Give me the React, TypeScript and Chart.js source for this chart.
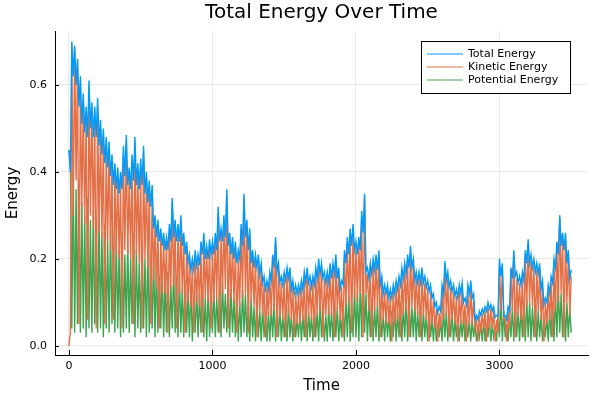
import React, { useEffect, useRef } from "react";
import { Chart, registerables } from "chart.js";

Chart.register(...registerables);

// Sampling step of the recorded series (time units between consecutive samples)
const SAMPLE_STEP = 10;

const TITLE = "Total Energy Over Time";
const X_LABEL = "Time";
const Y_LABEL = "Energy";
const X_TICKS = [0, 1000, 2000, 3000];
const Y_TICKS = [0, 0.2, 0.4, 0.6];
const SERIES_NAMES = ["Total Energy", "Kinetic Energy", "Potential Energy"];
const SERIES_COLORS = ["#009AFA", "#E36F47", "#3EA44E"];

// Total energy: samples at t = 0, 20, 40, ... (local highs)
const TOTAL_HI = [
  0.45, 0.70, 0.69, 0.66, 0.62, 0.58, 0.55, 0.61, 0.56, 0.55,
  0.57, 0.52, 0.50, 0.48, 0.47, 0.44, 0.42, 0.41, 0.40, 0.46,
  0.485, 0.41, 0.44, 0.48, 0.42, 0.43, 0.46, 0.40, 0.38, 0.37,
  0.30, 0.29, 0.27, 0.26, 0.25, 0.28, 0.34, 0.29, 0.28, 0.30,
  0.26, 0.24, 0.21, 0.20, 0.22, 0.21, 0.24, 0.26, 0.23, 0.245,
  0.24, 0.26, 0.32, 0.27, 0.30, 0.36, 0.26, 0.25, 0.24, 0.22,
  0.28, 0.35, 0.29, 0.27, 0.22, 0.21, 0.21, 0.19, 0.16, 0.15,
  0.17, 0.21, 0.25, 0.19, 0.16, 0.17, 0.18, 0.18, 0.15, 0.14,
  0.14, 0.15, 0.17, 0.18, 0.16, 0.16, 0.18, 0.20, 0.19, 0.17,
  0.17, 0.19, 0.19, 0.21, 0.18, 0.15, 0.22, 0.25, 0.27, 0.28,
  0.24, 0.25, 0.31, 0.35, 0.18, 0.19, 0.20, 0.21, 0.22, 0.16,
  0.14, 0.14, 0.13, 0.14, 0.15, 0.16, 0.18, 0.19, 0.21, 0.23,
  0.20, 0.17, 0.17, 0.18, 0.16, 0.15, 0.14, 0.12, 0.10, 0.09,
  0.14, 0.195, 0.17, 0.15, 0.14, 0.13, 0.14, 0.145, 0.11, 0.14,
  0.15, 0.12, 0.07, 0.08, 0.085, 0.09, 0.10, 0.095, 0.09, 0.07,
  0.20, 0.19, 0.07, 0.09, 0.18, 0.22, 0.17, 0.16, 0.17, 0.22,
  0.245, 0.21, 0.20, 0.19, 0.19, 0.15, 0.11, 0.14, 0.16, 0.20,
  0.24, 0.30, 0.26, 0.26, 0.22, 0.175,
];
// Total energy: samples at t = 10, 30, 50, ... (local lows)
const TOTAL_LO = [
  0.40, 0.62, 0.60, 0.55, 0.51, 0.49, 0.48, 0.50, 0.48, 0.48,
  0.46, 0.44, 0.42, 0.41, 0.39, 0.37, 0.36, 0.35, 0.36, 0.39,
  0.37, 0.36, 0.38, 0.37, 0.36, 0.37, 0.35, 0.33, 0.32, 0.27,
  0.25, 0.24, 0.23, 0.22, 0.22, 0.24, 0.25, 0.24, 0.24, 0.23,
  0.21, 0.19, 0.175, 0.175, 0.185, 0.185, 0.21, 0.20, 0.20, 0.21,
  0.21, 0.22, 0.24, 0.24, 0.25, 0.23, 0.21, 0.20, 0.19, 0.20,
  0.23, 0.25, 0.22, 0.19, 0.18, 0.18, 0.165, 0.145, 0.13, 0.13,
  0.15, 0.18, 0.17, 0.145, 0.14, 0.15, 0.155, 0.13, 0.12, 0.12,
  0.12, 0.13, 0.145, 0.145, 0.135, 0.14, 0.155, 0.165, 0.155, 0.145,
  0.145, 0.155, 0.165, 0.155, 0.13, 0.14, 0.19, 0.21, 0.23, 0.22,
  0.21, 0.22, 0.26, 0.17, 0.155, 0.165, 0.175, 0.175, 0.14, 0.12,
  0.12, 0.11, 0.11, 0.12, 0.13, 0.14, 0.155, 0.165, 0.18, 0.18,
  0.15, 0.145, 0.145, 0.145, 0.135, 0.125, 0.11, 0.09, 0.075, 0.08,
  0.12, 0.15, 0.135, 0.125, 0.115, 0.11, 0.12, 0.10, 0.095, 0.12,
  0.11, 0.06, 0.06, 0.07, 0.075, 0.08, 0.085, 0.08, 0.065, 0.07,
  0.16, 0.07, 0.06, 0.08, 0.155, 0.16, 0.145, 0.14, 0.15, 0.19,
  0.19, 0.18, 0.17, 0.165, 0.13, 0.095, 0.10, 0.12, 0.145, 0.18,
  0.21, 0.23, 0.22, 0.19, 0.155,
];

// Kinetic energy: samples at t = 0, 20, 40, ... (local highs)
const KINETIC_HI = [
  0.00, 0.69, 0.68, 0.65, 0.60, 0.56, 0.53, 0.59, 0.54, 0.53,
  0.55, 0.50, 0.48, 0.46, 0.45, 0.42, 0.40, 0.39, 0.38, 0.44,
  0.47, 0.39, 0.42, 0.46, 0.40, 0.41, 0.44, 0.38, 0.36, 0.35,
  0.28, 0.27, 0.255, 0.245, 0.235, 0.265, 0.33, 0.275, 0.265, 0.285,
  0.245, 0.225, 0.195, 0.185, 0.205, 0.195, 0.225, 0.245, 0.215, 0.23,
  0.225, 0.245, 0.305, 0.255, 0.285, 0.35, 0.245, 0.235, 0.225, 0.205,
  0.265, 0.34, 0.275, 0.255, 0.205, 0.195, 0.195, 0.175, 0.145, 0.135,
  0.155, 0.195, 0.24, 0.175, 0.145, 0.155, 0.165, 0.165, 0.135, 0.125,
  0.125, 0.135, 0.155, 0.165, 0.145, 0.145, 0.165, 0.185, 0.175, 0.155,
  0.155, 0.175, 0.175, 0.195, 0.165, 0.135, 0.205, 0.235, 0.255, 0.265,
  0.225, 0.235, 0.295, 0.345, 0.165, 0.175, 0.185, 0.195, 0.205, 0.145,
  0.125, 0.125, 0.115, 0.125, 0.135, 0.145, 0.165, 0.175, 0.195, 0.215,
  0.185, 0.155, 0.155, 0.165, 0.145, 0.135, 0.125, 0.105, 0.085, 0.075,
  0.125, 0.18, 0.155, 0.135, 0.125, 0.115, 0.125, 0.13, 0.095, 0.125,
  0.135, 0.105, 0.06, 0.07, 0.075, 0.08, 0.09, 0.085, 0.08, 0.06,
  0.185, 0.175, 0.06, 0.08, 0.165, 0.205, 0.155, 0.145, 0.155, 0.205,
  0.23, 0.195, 0.185, 0.175, 0.175, 0.135, 0.10, 0.125, 0.145, 0.185,
  0.225, 0.295, 0.245, 0.245, 0.205, 0.16,
];
// Kinetic energy: samples at t = 10, 30, 50, ... (local lows)
const KINETIC_LO = [
  0.03, 0.30, 0.38, 0.05, 0.32, 0.28, 0.06, 0.30, 0.27, 0.04,
  0.26, 0.25, 0.05, 0.24, 0.22, 0.06, 0.21, 0.20, 0.04, 0.22,
  0.21, 0.20, 0.05, 0.21, 0.19, 0.04, 0.20, 0.18, 0.05, 0.15,
  0.13, 0.04, 0.12, 0.12, 0.03, 0.13, 0.14, 0.04, 0.12, 0.12,
  0.03, 0.10, 0.09, 0.03, 0.10, 0.09, 0.03, 0.11, 0.10, 0.04,
  0.10, 0.11, 0.03, 0.12, 0.13, 0.04, 0.11, 0.10, 0.03, 0.09,
  0.11, 0.12, 0.03, 0.10, 0.09, 0.02, 0.08, 0.07, 0.02, 0.07,
  0.07, 0.08, 0.02, 0.07, 0.06, 0.02, 0.07, 0.06, 0.02, 0.05,
  0.05, 0.06, 0.02, 0.07, 0.06, 0.02, 0.07, 0.08, 0.02, 0.07,
  0.07, 0.07, 0.02, 0.08, 0.06, 0.02, 0.09, 0.10, 0.03, 0.11,
  0.10, 0.12, 0.02, 0.12, 0.08, 0.02, 0.08, 0.09, 0.02, 0.06,
  0.05, 0.05, 0.01, 0.05, 0.06, 0.02, 0.07, 0.08, 0.02, 0.09,
  0.08, 0.07, 0.02, 0.07, 0.06, 0.01, 0.05, 0.04, 0.01, 0.04,
  0.06, 0.07, 0.02, 0.06, 0.05, 0.01, 0.05, 0.05, 0.01, 0.05,
  0.05, 0.04, 0.01, 0.03, 0.04, 0.01, 0.04, 0.04, 0.01, 0.03,
  0.08, 0.06, 0.01, 0.04, 0.08, 0.02, 0.07, 0.06, 0.02, 0.09,
  0.10, 0.09, 0.02, 0.08, 0.06, 0.01, 0.05, 0.06, 0.02, 0.08,
  0.10, 0.12, 0.02, 0.10, 0.07,
];

// Potential energy: samples at t = 0, 20, 40, ... (local lows)
const POTENTIAL_LO = [
  0.45, 0.04, 0.03, 0.05, 0.03, 0.04, 0.02, 0.04, 0.03, 0.05,
  0.03, 0.04, 0.02, 0.04, 0.03, 0.05, 0.03, 0.04, 0.02, 0.03,
  0.04, 0.03, 0.05, 0.02, 0.04, 0.03, 0.04, 0.02, 0.03, 0.04,
  0.02, 0.03, 0.04, 0.02, 0.03, 0.02, 0.04, 0.03, 0.02, 0.03,
  0.02, 0.03, 0.02, 0.01, 0.03, 0.02, 0.03, 0.02, 0.01, 0.02,
  0.03, 0.02, 0.03, 0.02, 0.04, 0.03, 0.02, 0.03, 0.02, 0.01,
  0.02, 0.03, 0.02, 0.01, 0.02, 0.01, 0.02, 0.01, 0.02, 0.01,
  0.01, 0.02, 0.01, 0.02, 0.01, 0.02, 0.01, 0.02, 0.01, 0.02,
  0.02, 0.01, 0.02, 0.01, 0.02, 0.01, 0.02, 0.01, 0.02, 0.01,
  0.01, 0.02, 0.01, 0.02, 0.01, 0.02, 0.01, 0.02, 0.01, 0.02,
  0.02, 0.01, 0.02, 0.03, 0.01, 0.02, 0.01, 0.02, 0.01, 0.02,
  0.01, 0.02, 0.01, 0.02, 0.01, 0.02, 0.01, 0.02, 0.01, 0.02,
  0.02, 0.01, 0.02, 0.01, 0.02, 0.01, 0.02, 0.01, 0.01, 0.02,
  0.01, 0.02, 0.01, 0.02, 0.01, 0.02, 0.01, 0.02, 0.01, 0.02,
  0.01, 0.02, 0.01, 0.02, 0.01, 0.01, 0.02, 0.01, 0.02, 0.01,
  0.02, 0.01, 0.02, 0.01, 0.02, 0.01, 0.02, 0.01, 0.02, 0.01,
  0.02, 0.01, 0.02, 0.01, 0.02, 0.01, 0.02, 0.01, 0.02, 0.01,
  0.02, 0.03, 0.02, 0.01, 0.02, 0.03,
];
// Potential energy: samples at t = 10, 30, 50, ... (local highs)
const POTENTIAL_HI = [
  0.44, 0.40, 0.36, 0.38, 0.33, 0.30, 0.34, 0.29, 0.31, 0.27,
  0.30, 0.26, 0.28, 0.24, 0.27, 0.23, 0.25, 0.22, 0.26, 0.21,
  0.24, 0.20, 0.26, 0.22, 0.19, 0.23, 0.20, 0.22, 0.18, 0.21,
  0.19, 0.16, 0.18, 0.15, 0.17, 0.14, 0.18, 0.15, 0.16, 0.13,
  0.15, 0.12, 0.14, 0.11, 0.13, 0.12, 0.14, 0.11, 0.13, 0.12,
  0.13, 0.11, 0.14, 0.15, 0.12, 0.14, 0.13, 0.11, 0.12, 0.10,
  0.13, 0.12, 0.10, 0.11, 0.09, 0.10, 0.08, 0.09, 0.07, 0.08,
  0.09, 0.10, 0.08, 0.09, 0.07, 0.08, 0.09, 0.07, 0.08, 0.06,
  0.08, 0.07, 0.09, 0.08, 0.07, 0.09, 0.08, 0.10, 0.08, 0.07,
  0.09, 0.08, 0.10, 0.09, 0.07, 0.10, 0.11, 0.12, 0.10, 0.13,
  0.12, 0.14, 0.19, 0.12, 0.10, 0.11, 0.09, 0.10, 0.08, 0.07,
  0.08, 0.07, 0.08, 0.09, 0.08, 0.10, 0.09, 0.11, 0.10, 0.09,
  0.10, 0.08, 0.09, 0.08, 0.07, 0.08, 0.06, 0.07, 0.05, 0.06,
  0.09, 0.08, 0.07, 0.08, 0.06, 0.07, 0.06, 0.07, 0.05, 0.06,
  0.06, 0.05, 0.04, 0.05, 0.06, 0.05, 0.06, 0.05, 0.04, 0.07,
  0.11, 0.08, 0.05, 0.07, 0.09, 0.10, 0.08, 0.09, 0.10, 0.11,
  0.10, 0.09, 0.11, 0.08, 0.07, 0.06, 0.07, 0.08, 0.10, 0.12,
  0.14, 0.12, 0.11, 0.10, 0.09,
];

const FONT = "'DejaVu Sans', sans-serif";

function interleave(even: number[], odd: number[]) {
  const out: { x: number; y: number }[] = [];
  for (let i = 0; i < even.length; i++) {
    out.push({ x: 2 * i * SAMPLE_STEP, y: even[i] });
    if (i < odd.length) out.push({ x: (2 * i + 1) * SAMPLE_STEP, y: odd[i] });
  }
  return out;
}

const decorPlugin = {
  id: "decor",
  afterDraw(chart: any) {
    const { ctx, chartArea, scales } = chart;
    ctx.save();
    ctx.strokeStyle = "#000";
    ctx.lineWidth = 1;
    X_TICKS.forEach((v) => {
      const px = Math.round(scales.x.getPixelForValue(v)) + 0.5;
      ctx.beginPath();
      ctx.moveTo(px, chartArea.bottom);
      ctx.lineTo(px, chartArea.bottom - 5);
      ctx.stroke();
    });
    Y_TICKS.forEach((v) => {
      const py = Math.round(scales.y.getPixelForValue(v)) + 0.5;
      ctx.beginPath();
      ctx.moveTo(chartArea.left, py);
      ctx.lineTo(chartArea.left + 4, py);
      ctx.stroke();
    });
    ctx.fillStyle = "#000";
    ctx.font = `20px ${FONT}`;
    ctx.textAlign = "center";
    ctx.textBaseline = "middle";
    ctx.fillText(TITLE, (chartArea.left + chartArea.right) / 2, 13);
    const bx = 421.5, by = 41.5, bw = 149, bh = 52;
    ctx.fillStyle = "#fff";
    ctx.fillRect(bx, by, bw, bh);
    ctx.strokeStyle = "#000";
    ctx.strokeRect(bx, by, bw, bh);
    ctx.font = `11px ${FONT}`;
    ctx.textAlign = "left";
    SERIES_NAMES.forEach((name, i) => {
      const y = 54 + i * 13;
      ctx.strokeStyle = SERIES_COLORS[i];
      ctx.beginPath();
      ctx.moveTo(427, y);
      ctx.lineTo(463, y);
      ctx.stroke();
      ctx.fillStyle = "#000";
      ctx.fillText(name, 468, y + 0.5);
    });
    ctx.restore();
  },
};

export default function App() {
  const ref = useRef<HTMLCanvasElement | null>(null);
  useEffect(() => {
    if (!ref.current) return;
    const series = [
      interleave(TOTAL_HI, TOTAL_LO),
      interleave(KINETIC_HI, KINETIC_LO),
      interleave(POTENTIAL_LO, POTENTIAL_HI),
    ];
    const chart = new Chart(ref.current, {
      type: "line",
      data: {
        datasets: series.map((d, i) => ({
          label: SERIES_NAMES[i],
          data: d,
          borderColor: SERIES_COLORS[i],
          backgroundColor: SERIES_COLORS[i],
          borderWidth: 1.4,
          pointRadius: 0,
          tension: 0,
          fill: false,
        })),
      },
      options: {
        animation: false,
        responsive: false,
        devicePixelRatio: 1,
        layout: { padding: { left: 0, right: 12, top: 31, bottom: 0 } },
        plugins: {
          legend: { display: false },
          title: { display: false },
          tooltip: { enabled: false },
        },
        scales: {
          x: {
            type: "linear",
            min: -97,
            max: 3617,
            afterBuildTicks: (s: any) => {
              s.ticks = X_TICKS.map((v) => ({ value: v }));
            },
            afterFit: (s: any) => {
              s.height = 45;
            },
            ticks: {
              color: "#000",
              font: { size: 11, family: FONT },
              padding: 5,
              maxRotation: 0,
              callback: (v: any) => String(v),
            },
            grid: { color: "rgba(0,0,0,0.08)", lineWidth: 1, drawTicks: false },
            border: { display: true, color: "#000", width: 1 },
            title: {
              display: true,
              text: X_LABEL,
              color: "#000",
              font: { size: 15, family: FONT },
              padding: { top: 0, bottom: 5 },
            },
          },
          y: {
            type: "linear",
            min: -0.021,
            max: 0.724,
            afterBuildTicks: (s: any) => {
              s.ticks = Y_TICKS.map((v) => ({ value: v }));
            },
            afterFit: (s: any) => {
              s.width = 55;
            },
            ticks: {
              color: "#000",
              font: { size: 11, family: FONT },
              padding: 8,
              callback: (v: any) => Number(v).toFixed(1),
            },
            grid: { color: "rgba(0,0,0,0.08)", lineWidth: 1, drawTicks: false },
            border: { display: true, color: "#000", width: 1 },
            title: {
              display: true,
              text: Y_LABEL,
              color: "#000",
              font: { size: 15, family: FONT },
              padding: { top: 4, bottom: 0 },
            },
          },
        },
      },
      plugins: [decorPlugin],
    });
    return () => chart.destroy();
  }, []);
  return (
    <div style={{ position: "absolute", left: 0, top: 0, width: 600, height: 400, background: "#fff" }}>
      <canvas ref={ref} width={600} height={400} style={{ width: 600, height: 400 }} />
    </div>
  );
}
